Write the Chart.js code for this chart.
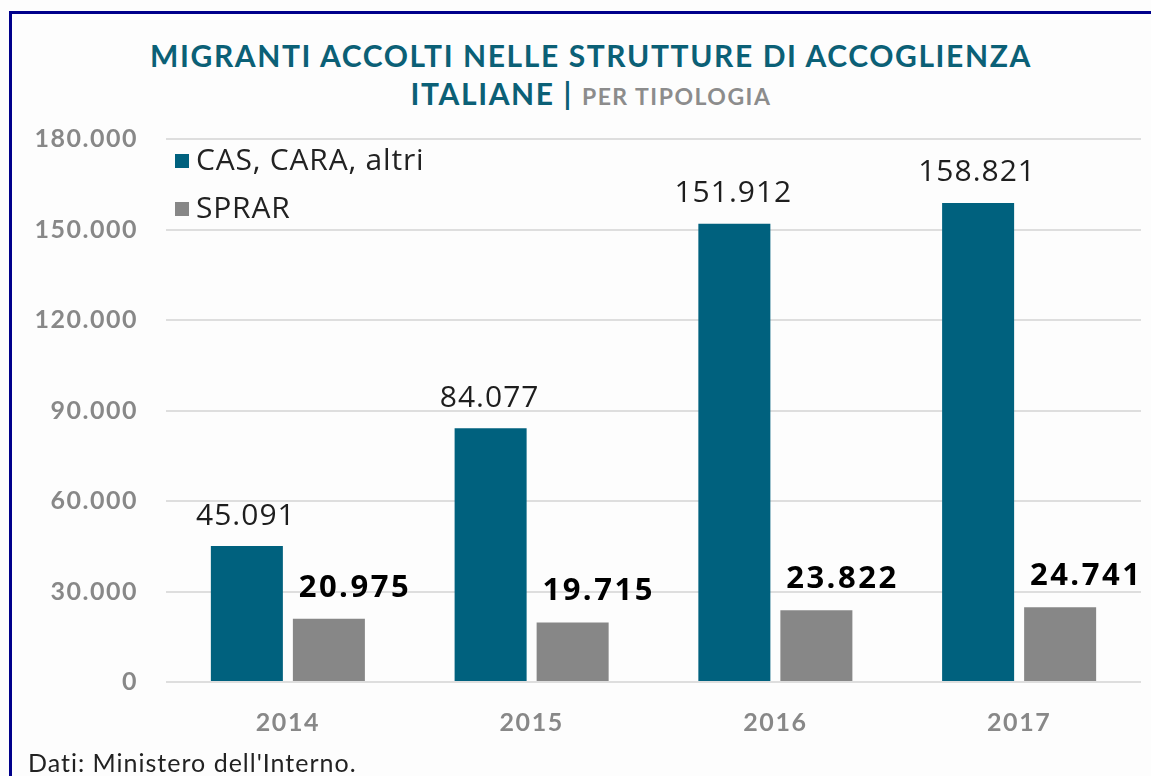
<!DOCTYPE html>
<html>
<head>
<meta charset="utf-8">
<script src="https://cdn.jsdelivr.net/npm/chart.js@4.4.1/dist/chart.umd.min.js"></script>
<style>
  body { margin: 0; background: #fdfdfd; width: 1151px; height: 776px; overflow: hidden; position: relative; font-family: Lato, sans-serif; }
  .frame-top { position: absolute; left: 9px; top: 11px; width: 1142px; height: 3px; background: #00008b; }
  .frame-left { position: absolute; left: 9px; top: 11px; width: 3px; height: 765px; background: #00008b; }
  #title { position: absolute; left: 31px; right: 0; top: 36px; text-align: center; color: #0b6076; font-weight: 700; font-size: 30px; line-height: 38px; letter-spacing: 1.6px; }
  #title .sub { color: #8c8c8c; font-size: 23px; letter-spacing: 1.5px; }
  #fonte { position: absolute; left: 28px; top: 747px; font-size: 25px; color: #222; letter-spacing: 1px; }
  #wrap { position: absolute; left: 0; top: 0; width: 1151px; height: 776px; }
</style>
</head>
<body>
<div class="frame-top"></div>
<div class="frame-left"></div>
<div id="title">MIGRANTI ACCOLTI NELLE STRUTTURE DI ACCOGLIENZA<br>ITALIANE | <span class="sub">PER TIPOLOGIA</span></div>
<div id="wrap"><canvas id="myChart"></canvas></div>
<div id="fonte">Dati: Ministero dell'Interno.</div>
<script>
const anni = ['2014', '2015', '2016', '2017'];
const casCara = [45091, 84077, 151912, 158821];
const sprar = [20975, 19715, 23822, 24741];
const nomiSerie = ['CAS, CARA, altri', 'SPRAR'];
const coloriSerie = ['#00617e', '#878787'];

// separatore delle migliaia all'italiana
const formatta = v => String(v).replace(/\B(?=(\d{3})+(?!\d))/g, '.');

// lettere un po' piu' larghe per le etichette degli assi
const spaziatura = {
    id: 'spaziatura',
    beforeDraw(chart) { chart.ctx.letterSpacing = '1.5px'; },
    beforeDatasetsDraw(chart) { chart.ctx.letterSpacing = '0px'; }
};

// etichette sopra le barre
const etichette = {
    id: 'etichette',
    afterDatasetsDraw(chart) {
        const ctx = chart.ctx;
        ctx.save();
        ctx.textAlign = 'center';
        ctx.textBaseline = 'middle';
        chart.data.datasets.forEach((ds, i) => {
            const meta = chart.getDatasetMeta(i);
            meta.data.forEach((bar, j) => {
                if (i === 0) {
                    ctx.font = '400 30px "Open Sans"';
                    ctx.letterSpacing = '1px';
                    ctx.fillStyle = '#1e1e1e';
                    ctx.fillText(formatta(ds.data[j]), bar.x - 1, bar.y - 30);
                } else {
                    ctx.font = '700 31px "Open Sans"';
                    ctx.letterSpacing = '2.5px';
                    ctx.fillStyle = '#000';
                    ctx.fillText(formatta(ds.data[j]), bar.x + 26, bar.y - 31);
                }
            });
        });
        ctx.restore();
    }
};

// legenda dentro l'area del grafico, in alto a sinistra
const legendaInterna = {
    id: 'legendaInterna',
    afterDraw(chart) {
        const ctx = chart.ctx;
        const x = chart.chartArea.left + 9;
        let y = chart.chartArea.top + 22;
        ctx.save();
        ctx.textBaseline = 'middle';
        ctx.font = '400 30px "Open Sans"';
        ctx.letterSpacing = '0.8px';
        chart.data.datasets.forEach(ds => {
            ctx.fillStyle = ds.backgroundColor;
            ctx.fillRect(x, y - 7, 14, 14);
            ctx.fillStyle = '#222';
            ctx.fillText(ds.label, x + 21, y);
            y += 48;
        });
        ctx.restore();
    }
};

const ctx = document.getElementById('myChart').getContext('2d');

const myChart = new Chart(ctx, {
    type: 'bar',
    data: {
        labels: anni,
        datasets: [{
            label: nomiSerie[0],
            data: casCara,
            backgroundColor: coloriSerie[0],
            categoryPercentage: 0.673,
            barPercentage: 0.878
        }, {
            label: nomiSerie[1],
            data: sprar,
            backgroundColor: coloriSerie[1],
            categoryPercentage: 0.673,
            barPercentage: 0.878
        }]
    },
    options: {
        responsive: true,
        maintainAspectRatio: false,
        animation: false,
        layout: {
            padding: { top: 139, right: 10, left: 0, bottom: 0 }
        },
        scales: {
            y: {
                min: 0,
                max: 180000,
                afterFit: s => { s.width = 166; },
                border: { display: false },
                grid: { color: '#dedede', lineWidth: 2, drawTicks: false },
                ticks: {
                    stepSize: 30000,
                    padding: 28,
                    color: '#888',
                    font: { family: 'Lato', size: 25, weight: '700' },
                    callback: v => formatta(v)
                }
            },
            x: {
                afterFit: s => { s.height = 94; },
                border: { display: false },
                grid: { display: false, drawTicks: false },
                ticks: {
                    padding: 26,
                    color: '#888',
                    font: { family: 'Lato', size: 25, weight: '700' }
                }
            }
        },
        plugins: {
            legend: { display: false },
            tooltip: { enabled: false }
        }
    },
    plugins: [spaziatura, etichette, legendaInterna]
});
</script>
</body>
</html>
